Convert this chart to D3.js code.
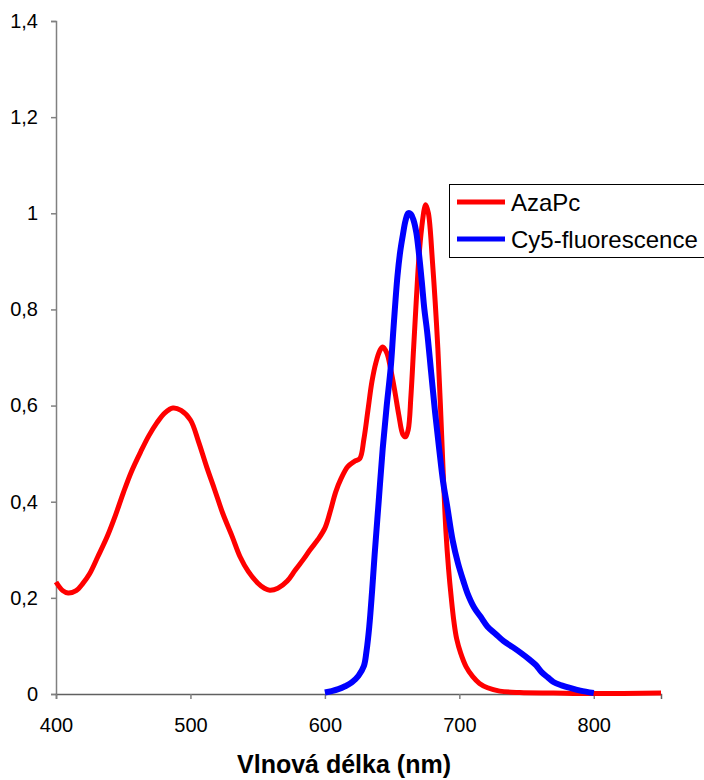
<!DOCTYPE html>
<html>
<head>
<meta charset="utf-8">
<script src="https://cdn.jsdelivr.net/npm/d3@7"></script>
<style>
  body { margin: 0; background: #fff; }
  svg { display: block; font-family: "Liberation Sans", Arial, sans-serif; }
</style>
</head>
<body>
<div id="chart"></div>
<script>
// AzaPc absorption (wavelength nm, relative value)
const azaNm = [400, 405, 409, 415, 420, 425, 431, 438, 444, 450, 456, 463, 469, 475, 481, 487, 493, 500, 506, 512, 518, 524, 531, 537, 543, 550, 555, 559, 565, 572, 578, 584, 589, 595, 600, 604, 608, 612, 617, 622, 626, 629, 632, 635, 638, 641, 643, 646, 649, 652, 655, 658, 660, 662, 664, 666, 668, 670, 672, 674, 675, 677, 680, 684, 688, 690, 692, 694, 696, 698, 701, 705, 710, 715, 721, 730, 745, 770, 800, 850]
const azaVal = [0.233, 0.215, 0.21, 0.215, 0.23, 0.25, 0.285, 0.327, 0.37, 0.418, 0.462, 0.504, 0.537, 0.564, 0.585, 0.595, 0.59, 0.57, 0.525, 0.473, 0.425, 0.376, 0.328, 0.285, 0.255, 0.231, 0.22, 0.216, 0.22, 0.235, 0.258, 0.28, 0.3, 0.322, 0.345, 0.38, 0.42, 0.448, 0.473, 0.484, 0.49, 0.53, 0.59, 0.65, 0.69, 0.715, 0.722, 0.71, 0.675, 0.63, 0.58, 0.54, 0.535, 0.55, 0.62, 0.72, 0.82, 0.91, 0.97, 1.01, 1.018, 1.0, 0.9, 0.72, 0.46, 0.34, 0.26, 0.2, 0.15, 0.115, 0.085, 0.057, 0.036, 0.022, 0.013, 0.006, 0.003, 0.002, 0.001, 0.002]

// Cy5 fluorescence
const cy5Nm = [600, 605, 610, 615, 620, 625, 629, 631, 633, 635, 637, 640, 643, 646, 649, 651, 654, 656, 658, 660, 662, 664, 666, 668, 670, 672, 674, 676, 679, 682, 685, 688, 691, 695, 699, 703, 706, 711, 716, 721, 727, 733, 740, 746, 752, 757, 761, 766, 770, 776, 783, 790, 800]
const cy5Val = [0.003, 0.006, 0.01, 0.016, 0.024, 0.038, 0.058, 0.09, 0.14, 0.21, 0.29, 0.4, 0.51, 0.6, 0.68, 0.76, 0.87, 0.92, 0.955, 0.985, 1.0, 0.998, 0.985, 0.96, 0.915, 0.86, 0.8, 0.755, 0.67, 0.585, 0.51, 0.44, 0.39, 0.32, 0.272, 0.235, 0.21, 0.18, 0.16, 0.14, 0.125, 0.11, 0.097, 0.085, 0.072, 0.06, 0.046, 0.034, 0.025, 0.018, 0.012, 0.007, 0.002]

const seriesNames = ["AzaPc", "Cy5-fluorescence"]
const seriesColors = ["#ff0000", "#0000ff"]
const xTicks = [400, 500, 600, 700, 800]
const yTicks = [0, 0.2, 0.4, 0.6, 0.8, 1, 1.2, 1.4]
const xTitle = "Vlnová délka (nm)"

const width = 704
const height = 780

const svg = d3.select("#chart")
    .append("svg")
    .attr("width", width)
    .attr("height", height)

const x = d3.scaleLinear()
    .domain([400, 850])
    .range([56, 661])

const y = d3.scaleLinear()
    .domain([0, 1.4])
    .range([694, 21])

const comma = d => String(d).replace(".", ",")

// y axis
const yAxis = svg.append("g")
    .attr("transform", `translate(${x(400)},0)`)
    .call(d3.axisLeft(y).tickValues(yTicks).tickFormat(comma).tickSize(5).tickPadding(13))
yAxis.select(".domain").attr("stroke", "#808080").attr("stroke-width", 1.5)
yAxis.selectAll(".tick line").attr("stroke", "#808080").attr("stroke-width", 1.5)
yAxis.selectAll("text").attr("font-size", 20).attr("fill", "#000")

// x axis
const xAxis = svg.append("g")
    .attr("transform", `translate(0,${y(0)})`)
    .call(d3.axisBottom(x).tickValues(xTicks).tickSize(5).tickPadding(19))
xAxis.select(".domain").attr("stroke", "#606060").attr("stroke-width", 1.5)
xAxis.selectAll(".tick line").attr("stroke", "#808080").attr("stroke-width", 1.5)
xAxis.selectAll("text").attr("font-size", 20).attr("fill", "#000")

const line = d3.line()
    .x(d => x(d[0]))
    .y(d => y(d[1]))
    .curve(d3.curveCatmullRom.alpha(0.5))

const series = [
    d3.zip(azaNm, azaVal),
    d3.zip(cy5Nm, cy5Val)
]

svg.append("path")
    .datum(series[0])
    .attr("fill", "none")
    .attr("stroke", seriesColors[0])
    .attr("stroke-width", 5)
    .attr("d", line)

svg.append("path")
    .datum(series[1])
    .attr("fill", "none")
    .attr("stroke", seriesColors[1])
    .attr("stroke-width", 6)
    .attr("d", line)

// legend
const legend = svg.append("g")
legend.append("rect")
    .attr("x", 449.5).attr("y", 184.5)
    .attr("width", 270).attr("height", 73)
    .attr("fill", "#fff")
    .attr("stroke", "#000")
    .attr("stroke-width", 1)

seriesNames.forEach((name, i) => {
    const ly = 202 + i * 37
    legend.append("line")
        .attr("x1", 457).attr("x2", 505)
        .attr("y1", ly).attr("y2", ly)
        .attr("stroke", seriesColors[i])
        .attr("stroke-width", 5)
    legend.append("text")
        .attr("x", 511).attr("y", ly + 9)
        .attr("font-size", 24)
        .text(name)
})

svg.append("text")
    .attr("x", 344)
    .attr("y", 773)
    .attr("text-anchor", "middle")
    .attr("font-size", 25)
    .attr("font-weight", "bold")
    .text(xTitle)
</script>
</body>
</html>
